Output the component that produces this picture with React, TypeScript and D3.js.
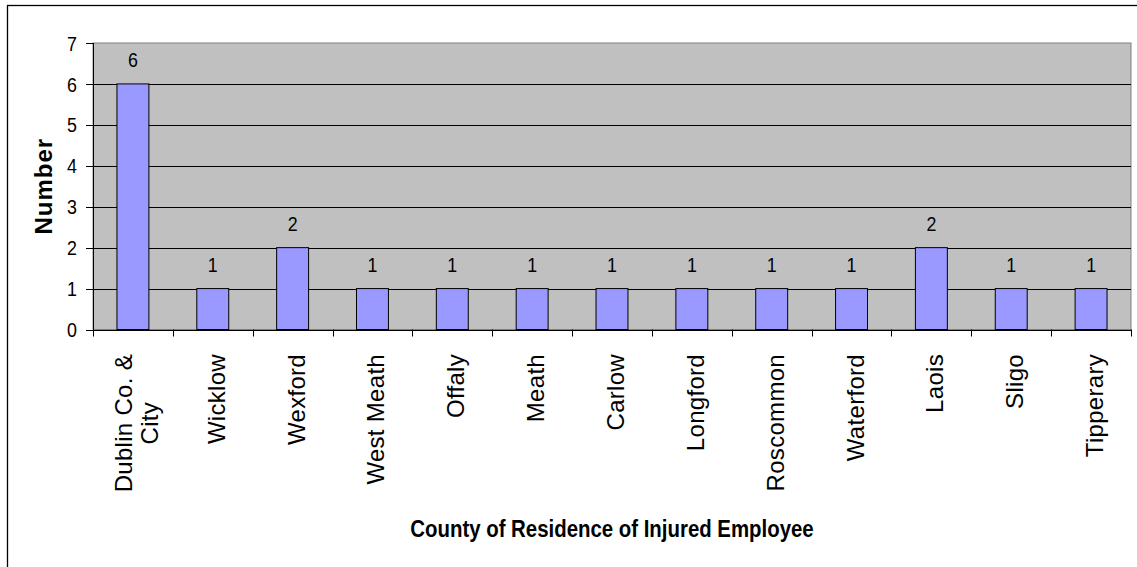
import React, { useEffect, useRef } from 'react';
import * as d3 from 'd3';

// chart data
const countyLabels = [
  ['Dublin Co. &', 'City'],
  ['Wicklow'],
  ['Wexford'],
  ['West Meath'],
  ['Offaly'],
  ['Meath'],
  ['Carlow'],
  ['Longford'],
  ['Roscommon'],
  ['Waterford'],
  ['Laois'],
  ['Sligo'],
  ['Tipperary'],
];
const counties = countyLabels.map((l) => l.join(' '));
const injuredCounts = [6, 1, 2, 1, 1, 1, 1, 1, 1, 1, 2, 1, 1];
const yTicks = [0, 1, 2, 3, 4, 5, 6, 7];

const FONT = "'Liberation Sans', Arial, Helvetica, sans-serif";

export default function App() {
  const ref = useRef<SVGSVGElement>(null);

  useEffect(() => {
    const svg = d3.select(ref.current);
    svg.selectAll('*').remove();

    const plot = { left: 93, top: 43, right: 1131, bottom: 329.5 };

    // outer chart border (runs off the picture on the right and bottom)
    svg.append('rect')
      .attr('x', 7.5).attr('y', 5.5)
      .attr('width', 1200).attr('height', 700)
      .attr('fill', '#fff')
      .attr('stroke', '#000')
      .attr('stroke-width', 1.3);

    const x = d3.scaleBand()
      .domain(counties)
      .range([plot.left, plot.right])
      .paddingInner(0.6)
      .paddingOuter(0.3);

    const y = d3.scaleLinear()
      .domain([0, 7])
      .range([plot.bottom, plot.top]);

    // plot background
    svg.append('rect')
      .attr('x', plot.left).attr('y', plot.top)
      .attr('width', plot.right - plot.left)
      .attr('height', plot.bottom - plot.top)
      .attr('fill', '#c0c0c0')
      .attr('stroke', '#808080')
      .attr('stroke-width', 1);

    // gridlines
    svg.append('g')
      .selectAll('line')
      .data(yTicks.filter((t) => t > 0 && t < 7))
      .enter().append('line')
      .attr('x1', plot.left).attr('x2', plot.right)
      .attr('y1', (d) => Math.round(y(d)) + 0.5)
      .attr('y2', (d) => Math.round(y(d)) + 0.5)
      .attr('stroke', '#000')
      .attr('stroke-width', 1);

    // bars
    svg.append('g')
      .selectAll('rect')
      .data(counties)
      .enter().append('rect')
      .attr('x', (d) => x(d)!)
      .attr('y', (d, i) => y(injuredCounts[i]))
      .attr('width', x.bandwidth())
      .attr('height', (d, i) => y(0) - y(injuredCounts[i]))
      .attr('fill', '#9999ff')
      .attr('stroke', '#000')
      .attr('stroke-width', 1);

    // value labels
    svg.append('g')
      .selectAll('g')
      .data(counties)
      .enter().append('g')
      .attr('transform', (d, i) => 'translate(' + (x(d)! + x.bandwidth() / 2) + ',' + (y(injuredCounts[i]) - 17) + ') scale(0.85,1)')
      .append('text')
      .attr('text-anchor', 'middle')
      .style('font-family', FONT)
      .style('font-size', '21px')
      .attr('fill', '#000')
      .text((d, i) => injuredCounts[i]);

    // y axis line + ticks
    svg.append('line')
      .attr('x1', plot.left + 0.5).attr('x2', plot.left + 0.5)
      .attr('y1', plot.top).attr('y2', plot.bottom)
      .attr('stroke', '#000');
    const yt = svg.append('g');
    yt.selectAll('line')
      .data(yTicks)
      .enter().append('line')
      .attr('x1', plot.left - 7).attr('x2', plot.left)
      .attr('y1', (d) => Math.round(y(d)) + 0.5)
      .attr('y2', (d) => Math.round(y(d)) + 0.5)
      .attr('stroke', '#000');
    yt.selectAll('g')
      .data(yTicks)
      .enter().append('g')
      .attr('transform', (d) => 'translate(' + (plot.left - 16) + ',' + y(d) + ') scale(0.85,1)')
      .append('text')
      .attr('text-anchor', 'end')
      .attr('dy', '0.36em')
      .style('font-family', FONT)
      .style('font-size', '21px')
      .text((d) => d);

    // x axis line + ticks between categories
    svg.append('line')
      .attr('x1', plot.left).attr('x2', plot.right)
      .attr('y1', Math.round(plot.bottom) + 0.5).attr('y2', Math.round(plot.bottom) + 0.5)
      .attr('stroke', '#000');
    svg.append('g')
      .selectAll('line')
      .data(d3.range(counties.length + 1))
      .enter().append('line')
      .attr('x1', (k) => Math.round(plot.left + k * x.step()) + 0.5)
      .attr('x2', (k) => Math.round(plot.left + k * x.step()) + 0.5)
      .attr('y1', plot.bottom)
      .attr('y2', plot.bottom + 7)
      .attr('stroke', '#000');

    // category labels (rotated)
    const labelTop = 354;
    countyLabels.forEach((lines, i) => {
      const cx = x(counties[i])! + x.bandwidth() / 2;
      const g = svg.append('g')
        .attr('transform', 'translate(' + cx + ',' + labelTop + ') rotate(-90)');
      const texts = lines.map((line, j) => g.append('text')
        .attr('y', 12 + (j - (lines.length - 1) / 2) * 26)
        .style('font-family', FONT)
        .style('font-size', '24px')
        .style('letter-spacing', '0.3px')
        .text(line));
      if (lines.length === 1) {
        texts[0].attr('text-anchor', 'end').attr('x', 0);
      } else {
        const maxW = d3.max(texts, (t) => (t.node() as SVGTextElement).getComputedTextLength()) || 0;
        texts.forEach((t) => t.attr('text-anchor', 'middle').attr('x', -maxW / 2));
      }
    });

    // axis titles
    svg.append('text')
      .attr('transform', 'translate(52,' + (plot.top + plot.bottom) / 2 + ') rotate(-90)')
      .attr('text-anchor', 'middle')
      .style('font-family', FONT)
      .style('font-size', '24px')
      .style('font-weight', 'bold')
      .style('letter-spacing', '1px')
      .text('Number');

    svg.append('g')
      .attr('transform', 'translate(' + (plot.left + plot.right) / 2 + ',537) scale(0.85,1)')
      .append('text')
      .attr('text-anchor', 'middle')
      .style('font-family', FONT)
      .style('font-size', '24px')
      .style('font-weight', 'bold')
      .text('County of Residence of Injured Employee');
  }, []);

  return (
    <svg
      ref={ref}
      width={1137}
      height={567}
      style={{ position: 'absolute', left: 0, top: 0, display: 'block', background: '#fff' }}
    />
  );
}
